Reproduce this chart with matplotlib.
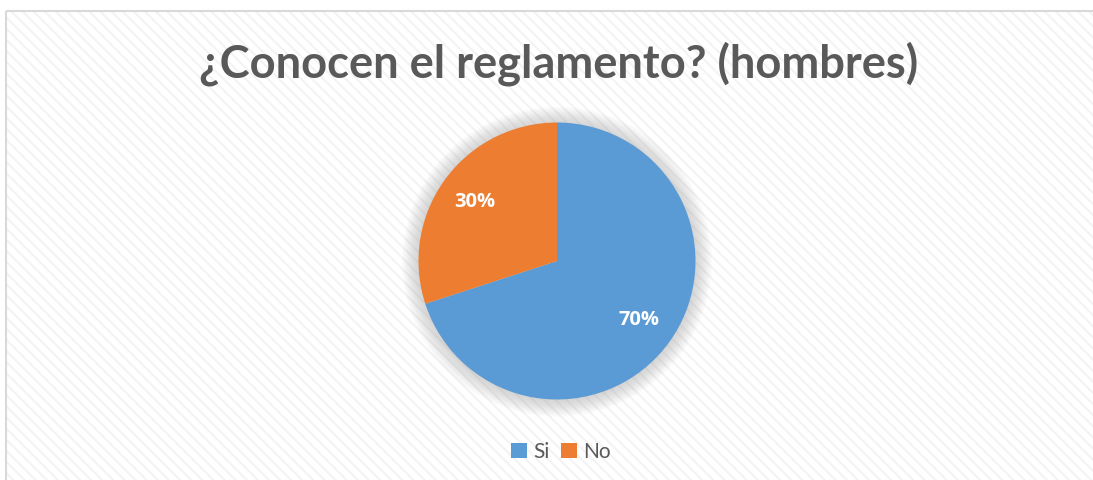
import matplotlib
matplotlib.use("Agg")
import matplotlib.pyplot as plt
from matplotlib.patches import Rectangle, Circle

labels = ["Si", "No"]
values = [70, 30]
colors = ["#5B9BD5", "#ED7D31"]
title = "¿Conocen el reglamento? (hombres)"

W, H = 1093, 480
plt.rcParams['hatch.linewidth'] = 1.5
fig = plt.figure(figsize=(W / 100, H / 100), dpi=100)
fig.patch.set_facecolor("white")

# background with diagonal hatch inside frame
bg = fig.add_axes([0, 0, 1, 1])
bg.set_xlim(0, W)
bg.set_ylim(H, 0)
bg.axis("off")
bg.add_patch(Rectangle((6, 11), W + 10, H + 10, facecolor="white",
                       edgecolor="#F3F3F3", hatch="\\\\\\", linewidth=0))
bg.add_patch(Rectangle((6, 11), W + 10, H + 10, facecolor="none",
                       edgecolor="#D9D9D9", linewidth=1.5))

# pie
cx, cy, R = 557, 261, 138.5
ax = fig.add_axes([(cx - R) / W, (H - cy - R) / H, 2 * R / W, 2 * R / H])
ax.set_xlim(-1, 1)
ax.set_ylim(-1, 1)
ax.axis("off")
for k in range(16):
    ax.add_patch(Circle((0, -0.004), 1.0 + 0.008 * k, facecolor="#8C8C8C",
                        alpha=0.022, edgecolor="none", clip_on=False, zorder=0))
wedges, texts, autotexts = ax.pie(
    values, colors=colors, startangle=90, counterclock=False, radius=1,
    autopct="%1.0f%%", pctdistance=0.73,
    wedgeprops=dict(linewidth=0, edgecolor="white"))
for w in wedges:
    w.set_zorder(2)
for t in autotexts:
    t.set_zorder(3)
    t.set_color("white")
    t.set_fontfamily("Open Sans")
    t.set_fontweight("bold")
    t.set_fontsize(14.5)
ax.set_xlim(-1, 1)
ax.set_ylim(-1, 1)

# title, fit width
t = fig.text(559 / W, 1 - 77 / H, title, ha="center", va="baseline",
             fontsize=36, fontweight="bold", family="Lato", color="#595959")
fig.canvas.draw()
bb = t.get_window_extent()
t.set_fontsize(36 * 718 / bb.width)

leg = fig.legend(wedges, labels, loc="center", bbox_to_anchor=(561 / W, 1 - 452 / H),
                 ncol=2, frameon=False, handlelength=0.75, handleheight=0.75,
                 handletextpad=0.3, columnspacing=0.55,
                 prop=dict(family="Lato", size=15))
for txt in leg.get_texts():
    txt.set_color("#595959")

fig.savefig("out.png", dpi=100)
